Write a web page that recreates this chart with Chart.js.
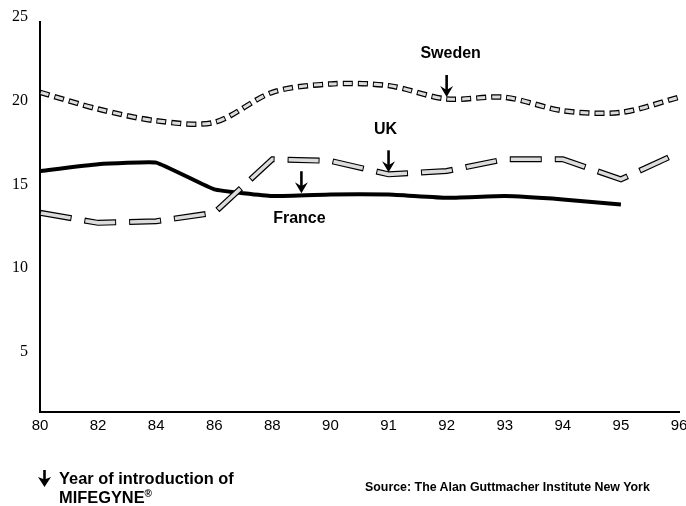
<!DOCTYPE html>
<html lang="en">
<head>
<meta charset="UTF-8">
<title>Abortion rates - Sweden, UK, France</title>
<script src="https://cdn.jsdelivr.net/npm/chart.js"></script>
<style>
    body { margin: 0; background: #fff; }
    #wrap { position: relative; width: 686px; height: 506px; }
    #wrap canvas { position: absolute; left: 0; top: 0; }
    .note {
        position: absolute;
        font-family: 'Liberation Sans', Arial, sans-serif;
        font-weight: bold;
        color: #000;
        white-space: nowrap;
    }
    #legendNote { left: 38px; top: 469px; font-size: 16.4px; line-height: 19px; }
    #legendNote svg { position: absolute; left: 0; top: 1px; }
    #legendNote div { margin-left: 21px; }
    #legendNote sup { font-size: 10px; line-height: 0; vertical-align: 6px; }
    #source { left: 365px; top: 480px; font-size: 12.4px; line-height: 14px; }
</style>
</head>
<body>

<div id="wrap">
    <canvas id="chart" width="686" height="506"></canvas>
    <div class="note" id="legendNote">
        <svg width="13" height="17" viewBox="0 0 13 17"><path d="M6.5 0 V11" stroke="#000" stroke-width="2.6"/><path d="M0 7 L6.5 17 L13 7 L6.5 9.5 Z" fill="#000"/></svg>
        <div>Year of introduction of</div>
        <div>MIFEGYNE<sup>®</sup></div>
    </div>
    <div class="note" id="source">Source: The Alan Guttmacher Institute New York</div>
</div>

<script>
    // data
    const years = ['80', '82', '84', '86', '88', '90', '91', '92', '93', '94', '95', '96'];
    const sweden = [20.8, 19.8, 19.1, 19.0, 20.8, 21.3, 21.2, 20.4, 20.5, 19.7, 19.6, 20.5];
    const uk = [13.6, 13.0, 13.1, 13.6, 16.8, 16.7, 15.9, 16.1, 16.8, 16.8, 15.6, 17.2];
    const france = [16.1, 16.5, 16.6, 15.0, 14.6, 14.7, 14.7, 14.5, 14.6, 14.4, 14.1, null];
    const yTicks = [5, 10, 15, 20, 25];

    // year MIFEGYNE was introduced
    const countries = ['Sweden', 'UK', 'France'];
    const introYear = [92, 91, 89];
    const countrySeries = [sweden, uk, france];

    const fill = '#dcdcdc';

    // position of a year on the category axis (fractional between labels)
    function yearToIndex(yr) {
        const nums = years.map(Number);
        for (let i = 0; i < nums.length - 1; i++) {
            if (yr >= nums[i] && yr <= nums[i + 1]) {
                return i + (yr - nums[i]) / (nums[i + 1] - nums[i]);
            }
        }
        return nums.length - 1;
    }

    function drawArrow(ctx, x, tipY) {
        ctx.save();
        ctx.strokeStyle = '#000';
        ctx.fillStyle = '#000';
        ctx.lineWidth = 2.6;
        ctx.beginPath();
        ctx.moveTo(x, tipY - 22);
        ctx.lineTo(x, tipY - 6);
        ctx.stroke();
        ctx.beginPath();
        ctx.moveTo(x - 6.5, tipY - 11);
        ctx.lineTo(x, tipY);
        ctx.lineTo(x + 6.5, tipY - 11);
        ctx.lineTo(x, tipY - 7);
        ctx.closePath();
        ctx.fill();
        ctx.restore();
    }

    // arrows + country names
    const notesPlugin = {
        id: 'notes',
        afterDatasetsDraw(chart) {
            const ctx = chart.ctx;
            const xs = chart.scales.x, ys = chart.scales.y;
            const offs = [[4, -45], [-3, -45], [-2, 23]];
            countries.forEach((name, i) => {
                const idx = yearToIndex(introYear[i]);
                const vals = countrySeries[i];
                const lo = Math.floor(idx), hi = Math.ceil(idx);
                const v = vals[lo] + (vals[hi] - vals[lo]) * (idx - lo);
                const px = xs.getPixelForValue(idx);
                const py = ys.getPixelForValue(v) - 2;
                drawArrow(ctx, px, py);
                ctx.save();
                ctx.font = 'bold 16px "Liberation Sans", Arial, sans-serif';
                ctx.fillStyle = '#000';
                ctx.textAlign = 'center';
                ctx.textBaseline = 'middle';
                ctx.fillText(name, px + offs[i][0], py + 2 + offs[i][1]);
                ctx.restore();
            });
        }
    };

    const ctx = document.getElementById('chart').getContext('2d');
    new Chart(ctx, {
        type: 'line',
        data: {
            labels: years,
            datasets: [
                // UK: hollow long dashes
                { label: 'UK', data: uk, borderColor: fill, borderWidth: 3.6, borderDash: [30, 15], borderDashOffset: -1, tension: 0, order: 0 },
                { label: 'UK outline', data: uk, borderColor: '#000', borderWidth: 6, borderDash: [32, 13], tension: 0, order: 1 },
                // Sweden: hollow short dashes
                { label: 'Sweden', data: sweden, borderColor: fill, borderWidth: 3, borderDash: [8, 7], borderDashOffset: -1, tension: 0.3, order: 2 },
                { label: 'Sweden outline', data: sweden, borderColor: '#000', borderWidth: 5.5, borderDash: [10, 5], tension: 0.3, order: 3 },
                // France: solid
                { label: 'France', data: france, borderColor: '#000', borderWidth: 4, tension: 0.1, order: 4 }
            ]
        },
        options: {
            responsive: false,
            animation: false,
            events: [],
            elements: { point: { radius: 0 } },
            layout: { padding: { top: 22, right: 7, bottom: 0, left: 0 } },
            plugins: {
                legend: { display: false },
                tooltip: { enabled: false }
            },
            scales: {
                x: {
                    offset: false,
                    grid: { display: false, drawTicks: false },
                    border: { display: true, color: '#000', width: 2 },
                    ticks: {
                        color: '#000',
                        padding: 5,
                        autoSkip: false,
                        maxRotation: 0,
                        font: { family: '"Liberation Sans", Arial, sans-serif', size: 15 }
                    },
                    afterFit: s => { s.height = 94; s.paddingLeft = 0; s.paddingRight = 0; }
                },
                y: {
                    min: 1.7,
                    max: 25,
                    grid: { display: false, drawTicks: false },
                    border: { display: true, color: '#000', width: 2 },
                    ticks: {
                        color: '#000',
                        padding: 12,
                        labelOffset: -5,
                        font: { family: '"Liberation Serif", "Times New Roman", serif', size: 16 }
                    },
                    afterBuildTicks: s => { s.ticks = yTicks.map(v => ({ value: v })); },
                    afterFit: s => { s.width = 40; }
                }
            }
        },
        plugins: [notesPlugin]
    });
</script>

</body>
</html>
